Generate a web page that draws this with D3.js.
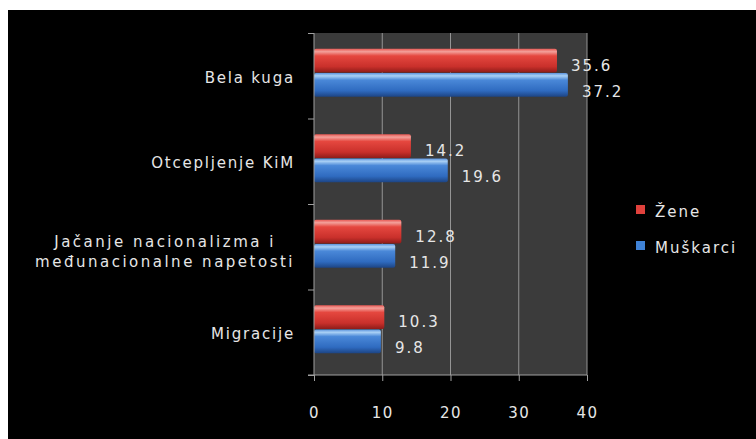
<!DOCTYPE html>
<html><head><meta charset="utf-8">
<script src="https://cdn.jsdelivr.net/npm/d3@7"></script>
<style>
html,body{margin:0;padding:0;background:#fff;}
svg{display:block;}
text{font-family:"DejaVu Sans",sans-serif;fill:#e6e6e6;}
</style></head>
<body>
<svg id="c" width="756" height="439"></svg>
<script>
const categories = [["Bela kuga"], ["Otcepljenje KiM"], ["Jačanje nacionalizma i", "međunacionalne napetosti"], ["Migracije"]];
const seriesNames = ["Žene", "Muškarci"];
const zeneValues = [35.6, 14.2, 12.8, 10.3];
const muskarciValues = [37.2, 19.6, 11.9, 9.8];
const xTicks = [0, 10, 20, 30, 40];

const svg = d3.select("#c");
svg.append("rect").attr("x", 8).attr("y", 10).attr("width", 748).attr("height", 429).attr("fill", "#000");

const defs = svg.append("defs");
function grad(id, stops) {
  const g = defs.append("linearGradient").attr("id", id).attr("x1", 0).attr("y1", 0).attr("x2", 0).attr("y2", 1);
  stops.forEach(s => g.append("stop").attr("offset", s[0]).attr("stop-color", s[1]));
}
grad("gRed", [[0, "#e85a55"], [0.12, "#f3a09a"], [0.3, "#e5473f"], [0.75, "#c9302b"], [1, "#8e1c19"]]);
grad("gBlue", [[0, "#5a92dc"], [0.12, "#a9d0f5"], [0.3, "#4a88d8"], [0.75, "#2f6bc0"], [1, "#1d4585"]]);

const pLeft = 314, pRight = 587, pTop = 33, pBottom = 375;
const x = d3.scaleLinear().domain([0, 40]).range([pLeft, pRight]);
const idx = d3.range(categories.length);
const y = d3.scaleBand().domain(idx).range([pTop, pBottom]).padding(0);
const ys = d3.scaleBand().domain([0, 1]).range([0, y.bandwidth()]).paddingInner(0.02).paddingOuter(0.78).align(0.42);

// plot background
svg.append("rect").attr("x", pLeft).attr("y", pTop).attr("width", pRight - pLeft).attr("height", pBottom - pTop).attr("fill", "#3b3b3b");

// grid
svg.append("g").selectAll("line").data(xTicks.slice(1)).join("line")
  .attr("x1", d => x(d)).attr("x2", d => x(d)).attr("y1", pTop).attr("y2", pBottom)
  .attr("stroke", "#959595").attr("stroke-width", 1);

// bars
const series = [zeneValues, muskarciValues];
const fills = ["url(#gRed)", "url(#gBlue)"];
const labelShift = [5.5, 7.5];
series.forEach((vals, s) => {
  svg.append("g").selectAll("rect").data(vals).join("rect")
    .attr("x", x(0)).attr("y", (d, i) => y(i) + ys(s))
    .attr("width", d => x(d) - x(0)).attr("height", ys.bandwidth())
    .attr("rx", 2).attr("fill", fills[s]);
  svg.append("g").selectAll("text").data(vals).join("text")
    .attr("x", d => x(d) + 14).attr("y", (d, i) => y(i) + ys(s) + ys.bandwidth() / 2 + labelShift[s])
    .attr("dominant-baseline", "middle").attr("font-size", 15).attr("letter-spacing", 2)
    .text(d => d.toFixed(1));
});

// axes
const xAxis = d3.axisBottom(x).tickValues(xTicks).tickSize(6).tickPadding(26).tickFormat(d3.format("d"));
const gx = svg.append("g").attr("transform", `translate(0,${pBottom})`).call(xAxis);
gx.select(".domain").attr("stroke", "#a0a0a0").attr("d", `M${pLeft - 6},0H${pRight}`);
gx.selectAll(".tick line").attr("stroke", "#a0a0a0");
gx.selectAll(".tick text").attr("fill", "#e6e6e6").attr("font-size", 15).attr("letter-spacing", 1.5)
  .attr("font-family", '"DejaVu Sans",sans-serif');

const yEdge = d3.scaleLinear().domain([0, categories.length]).range([pTop, pBottom]);
const gy = svg.append("g").attr("transform", `translate(${pLeft},0)`)
  .call(d3.axisLeft(yEdge).tickValues(d3.range(categories.length + 1)).tickSize(6).tickFormat(""));
gy.select(".domain").attr("stroke", "#a0a0a0").attr("d", `M0,${pTop}V${pBottom}`);
gy.selectAll(".tick line").attr("stroke", "#a0a0a0");

// category labels (block right-aligned at 295, lines centred within the block)
const labelRight = 295;
const cl = svg.append("g").selectAll("text").data(categories).join("text")
  .attr("font-size", 15).attr("dominant-baseline", "middle")
  .attr("letter-spacing", d => d.length > 1 ? 2.5 : 1.8);
cl.each(function(d, i) {
  const t = d3.select(this);
  const n = d.length;
  const cy = y(i) + y.bandwidth() / 2 + (n > 1 ? 5 : 2);
  t.attr("y", cy);
  d.forEach((line, k) => {
    t.append("tspan").attr("dy", k === 0 ? -(n - 1) * 10 : 20).text(line);
  });
  const widths = [];
  t.selectAll("tspan").each(function() { widths.push(this.getComputedTextLength()); });
  const maxW = d3.max(widths);
  t.attr("text-anchor", "middle");
  t.selectAll("tspan").attr("x", labelRight - maxW / 2);
});

// legend
const legColors = ["#e0413c", "#3f82d6"];
const lg = svg.append("g").selectAll("g").data(seriesNames).join("g")
  .attr("transform", (d, i) => `translate(636,${205 + i * 36})`);
lg.append("rect").attr("width", 9).attr("height", 9).attr("fill", (d, i) => legColors[i]);
lg.append("text").attr("x", 19).attr("y", 7).attr("dominant-baseline", "middle")
  .attr("font-size", 15).attr("letter-spacing", 2).text(d => d);
</script>
</body></html>
